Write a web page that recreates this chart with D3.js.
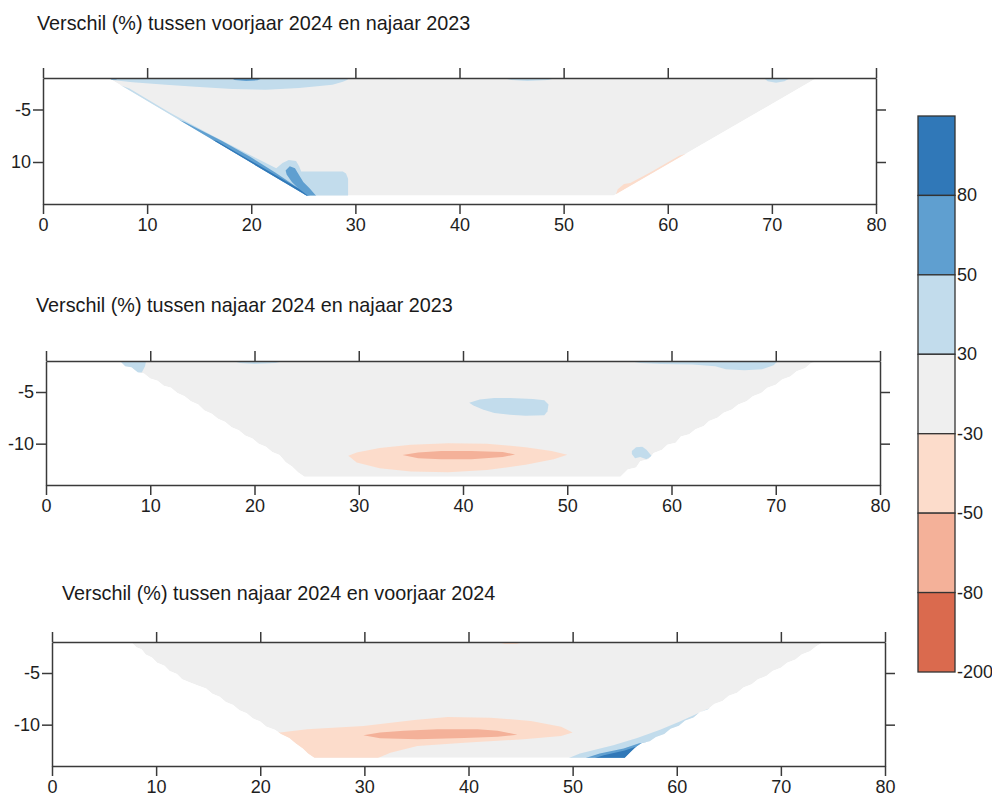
<!DOCTYPE html>
<html>
<head>
<meta charset="utf-8">
<script src="https://cdn.jsdelivr.net/npm/d3@7"></script>
<style>
  html, body { margin:0; padding:0; background:#fff; overflow:hidden; }
  svg { display:block; }
</style>
</head>
<body>
<div id="chart"></div>
<script>
// ---- data ---------------------------------------------------------
const xTicks = [0, 10, 20, 30, 40, 50, 60, 70, 80];
const yTicks = [-5, -10];
const depthDomain = [-2, -14];

const titles = [
  "Verschil (%) tussen voorjaar 2024 en najaar 2023",
  "Verschil (%) tussen najaar 2024 en najaar 2023",
  "Verschil (%) tussen najaar 2024 en voorjaar 2024"
];
const yTickLabels = [["-5", "10"], ["-5", "-10"], ["-5", "-10"]];

// class breaks (%) and colours
const breaks = [-80, -50, -30, 30, 50, 80];
const classColors = ["#da6a4e", "#f4b199", "#fcdccb", "#efefef", "#c2dcec", "#5f9fd0", "#3078b8"];
const legendValues = [90, 65, 40, 0, -40, -65, -100];           // one value per band, top → bottom
const legendLabels = ["80", "50", "30", "-30", "-50", "-80", "-200"];

// section outlines [distance, depth]
const section1 = [[6.3,-2],[74.3,-2],[54.8,-13.2],[25.3,-13.2]];
const section2 = [
  [7.1,-2],[7.6,-2.5],[8.2,-2.6],[8.8,-3.1],[9.4,-3.2],[10.0,-3.7],[10.7,-3.9],[11.3,-4.4],[12.0,-4.6],
  [12.6,-5.1],[13.3,-5.4],[13.9,-5.9],[14.6,-6.2],[15.2,-6.8],[15.9,-7.1],[16.5,-7.6],[17.2,-7.9],
  [17.8,-8.4],[18.5,-8.7],[19.1,-9.2],[19.8,-9.5],[20.4,-10.0],[21.1,-10.3],[21.7,-10.8],[22.4,-11.1],
  [23.0,-11.8],[23.6,-12.2],[24.2,-12.8],[24.8,-13.2],
  [55.1,-13.2],[55.8,-12.5],[56.6,-12.3],[57.0,-11.7],[57.8,-11.5],[58.3,-10.9],[59.1,-10.6],[59.6,-10.1],
  [60.4,-9.9],[60.9,-9.3],[61.7,-9.1],[62.3,-8.6],[63.1,-8.3],[63.6,-7.8],[64.4,-7.5],[65.0,-7.0],
  [65.8,-6.7],[66.4,-6.2],[67.2,-5.9],[67.8,-5.4],[68.6,-5.1],[69.2,-4.6],[70.0,-4.3],[70.6,-3.8],
  [71.4,-3.5],[72.0,-3.0],[72.8,-2.7],[73.4,-2.2],[74.2,-2]
];
const section3 = [
  [7.6,-2],[8.1,-2.5],[8.6,-2.7],[9.0,-3.2],[9.6,-3.5],[10.1,-4.0],[10.8,-4.3],[11.3,-4.8],[12.0,-5.1],
  [12.5,-5.6],[13.2,-5.9],[14.0,-6.2],[14.8,-6.5],[15.4,-7.0],[16.1,-7.3],[16.7,-7.8],[17.4,-8.1],
  [18.0,-8.6],[18.7,-8.9],[19.3,-9.4],[20.0,-9.7],[20.6,-10.2],[21.4,-10.5],[22.0,-10.9],[22.8,-11.3],
  [23.4,-11.8],[24.1,-12.3],[24.6,-12.8],[25.2,-13.2],
  [55.0,-13.2],[55.6,-12.6],[56.0,-12.2],[56.6,-11.8],[57.4,-11.6],[58.0,-11.2],[58.8,-10.9],[59.4,-10.4],
  [60.2,-10.1],[60.8,-9.6],[61.6,-9.3],[62.2,-8.8],[63.0,-8.5],[63.6,-8.0],[64.4,-7.7],[65.0,-7.2],
  [65.8,-6.9],[66.4,-6.4],[67.2,-6.1],[67.8,-5.6],[68.6,-5.3],[69.2,-4.8],[70.0,-4.5],[70.6,-4.0],
  [71.4,-3.7],[72.0,-3.2],[72.8,-2.9],[73.4,-2.4],[74.1,-2]
];

// difference patches: v = % change, pts = [distance, depth]
const patches1 = [
  { v: 40, pts: [[6.3,-2],[29.4,-2],[29.2,-2.2],[28.8,-2.35],[27.8,-2.64],[24.6,-2.96],[21.4,-3.11],[18.2,-3.05],[15.0,-2.86],[11.8,-2.64],[8.6,-2.41],[6.4,-2.16]] },
  { v: 65, pts: [[18.1,-2],[21.1,-2],[20.6,-2.22],[19.5,-2.28],[18.4,-2.2]] },
  { v: 65, pts: [[6.3,-2],[7.4,-2],[7.0,-2.15],[6.5,-2.15]] },
  { v: 40, pts: [[33.0,-2],[34.3,-2],[33.9,-2.12],[33.3,-2.12]] },
  { v: 40, pts: [[44.2,-2],[49.3,-2],[48.5,-2.2],[46.5,-2.28],[45.0,-2.2]] },
  { v: 40, pts: [[69.2,-2],[71.8,-2],[71.2,-2.3],[70.4,-2.45],[69.6,-2.3]] },
  { v: 40, pts: [[4,-1.5],[8.3,-3.0],[12.2,-5.3],[16.3,-7.5],[20.4,-9.6],[22.4,-10.6],[23.0,-10.1],[23.6,-9.8],[24.3,-9.9],[24.6,-10.4],[24.8,-10.9],[28.8,-10.9],[29.1,-11.1],[29.3,-11.6],[29.3,-13.4],[20,-14],[4,-14]] },
  { v: 65, pts: [[10,-5],[13.6,-6.2],[17.2,-8.0],[19.9,-9.5],[22.3,-11.0],[23.8,-12.0],[25.9,-13.4],[10,-14]] },
  { v: 65, pts: [[23.3,-10.8],[23.7,-10.4],[24.2,-10.6],[24.5,-11.1],[25.0,-11.9],[25.6,-12.5],[26.3,-13.3],[25.3,-13.3],[24.7,-12.7],[23.9,-11.9],[23.4,-11.2]] },
  { v: 90, pts: [[14,-7.3],[16.7,-8.0],[19.3,-9.5],[21.9,-11.0],[24.5,-12.5],[25.7,-13.4],[14,-14]] },
  { v: -40, pts: [[54.9,-13.4],[55.2,-12.6],[55.8,-12.1],[56.4,-12.0],[58.3,-11.0],[61.1,-9.4],[62.5,-9.0],[62.5,-13.4]] }
];
const patches2 = [
  { v: 40, pts: [[7.1,-2],[9.6,-2],[9.5,-2.5],[9.2,-3.1],[8.6,-3.2],[7.8,-2.8],[6,-2.5]] },
  { v: 40, pts: [[17.9,-2],[22.8,-2],[22.0,-2.2],[20.0,-2.28],[18.6,-2.2]] },
  { v: 40, pts: [[55.9,-2],[70.2,-2],[69.8,-2.4],[68.7,-2.8],[67.0,-2.9],[65.2,-2.8],[64.2,-2.5],[62.0,-2.35],[59.0,-2.3],[57.0,-2.2]] },
  { v: 40, pts: [[40.6,-6.05],[41.6,-5.73],[43.0,-5.57],[44.5,-5.57],[46.7,-5.67],[47.8,-5.8],[48.2,-6.2],[48.1,-6.87],[47.8,-7.25],[46.0,-7.3],[44.5,-7.2],[43.0,-7.03],[41.9,-6.7],[41.0,-6.3]] },
  { v: -40, pts: [[29.0,-11.18],[29.8,-10.86],[32.0,-10.43],[35.0,-10.1],[38.6,-9.95],[42.3,-10.0],[46.0,-10.34],[48.5,-10.7],[50.0,-11.08],[48.7,-11.5],[46.0,-12.05],[42.3,-12.54],[38.6,-12.77],[35.0,-12.7],[32.0,-12.38],[29.8,-11.83]] },
  { v: -65, pts: [[34.2,-11.1],[35.7,-10.86],[37.9,-10.7],[40.8,-10.7],[43.8,-10.8],[45.0,-11.05],[43.8,-11.3],[40.8,-11.5],[37.9,-11.5],[35.7,-11.4]] },
  { v: 40, pts: [[56.2,-10.7],[56.6,-10.35],[57.2,-10.3],[57.6,-10.6],[58.1,-11.2],[57.6,-11.5],[57.0,-11.3],[56.5,-11.4],[56.2,-11.0]] }
];
const patches3 = [
  { v: -40, pts: [[42.8,-2],[45.3,-2],[44.6,-2.2],[43.5,-2.2]] },
  { v: -40, pts: [[20,-10.6],[21.9,-10.77],[24.5,-10.45],[29.9,-10.13],[34.8,-9.55],[38.0,-9.26],[42.1,-9.32],[46.0,-9.65],[48.9,-10.19],[50.0,-10.77],[48.9,-11.1],[45.3,-11.42],[39.6,-11.74],[35.1,-12.06],[32.5,-12.71],[30.9,-13.4],[24.8,-13.4],[20,-13.4]] },
  { v: -65, pts: [[29.9,-11.03],[31.5,-10.77],[33.8,-10.6],[37.0,-10.45],[40.9,-10.45],[42.8,-10.6],[44.7,-10.97],[42.8,-11.16],[39.6,-11.29],[35.1,-11.42],[31.5,-11.32]] },
  { v: 40, pts: [[49.2,-13.4],[50.7,-12.8],[53.9,-12.0],[56.2,-11.3],[58.4,-10.5],[60.3,-9.7],[62.9,-8.5],[64.0,-8.1],[64.8,-8.3],[60,-11.5],[57,-13.4]] },
  { v: 65, pts: [[50.7,-13.4],[52.6,-12.8],[54.9,-12.3],[56.4,-11.8],[57.4,-11.7],[57.4,-13.4]] },
  { v: 90, pts: [[51.6,-13.4],[53.0,-12.95],[55.0,-12.5],[56.0,-12.15],[56.6,-12.1],[56.3,-13.4]] }
];

// ---- layout -------------------------------------------------------
const W = 992, H = 796;
const panels = [
  { title: titles[0], tx: 37, ty: 30,  x0: 43, x1: 876, top: 78,  bottom: 204, section: section1, patches: patches1, yLabels: yTickLabels[0] },
  { title: titles[1], tx: 36, ty: 312, x0: 46, x1: 880, top: 361, bottom: 485, section: section2, patches: patches2, yLabels: yTickLabels[1] },
  { title: titles[2], tx: 62, ty: 600, x0: 52, x1: 885, top: 642, bottom: 766, section: section3, patches: patches3, yLabels: yTickLabels[2] }
];

const color = d3.scaleThreshold().domain(breaks).range(classColors);
const FONT = "'Liberation Sans', Arial, sans-serif";
const INK = "#3a3a3a";

const svg = d3.select("#chart").append("svg")
  .attr("width", W).attr("height", H)
  .attr("font-family", FONT);

function axisStyling(g){
  g.selectAll("path,line").attr("stroke", INK).attr("stroke-width", 1.5);
  g.selectAll("text").attr("fill", "#1e1e1e").attr("font-size", 18).attr("font-family", FONT);
}

panels.forEach((p, i) => {
  const x = d3.scaleLinear([0, 80], [p.x0, p.x1]);
  const y = d3.scaleLinear(depthDomain, [p.top, p.bottom]);
  const line = d3.line().x(d => x(d[0])).y(d => y(d[1])).curve(d3.curveLinearClosed);

  svg.append("text")
    .attr("x", p.tx).attr("y", p.ty)
    .attr("font-size", 19.8).attr("fill", "#1a1a1a")
    .text(p.title);

  const clipId = `sect-${i}`;
  svg.append("defs").append("clipPath").attr("id", clipId)
    .append("path").attr("d", line(p.section));

  const g = svg.append("g").attr("clip-path", `url(#${clipId})`);
  g.append("path").attr("d", line(p.section)).attr("fill", color(0));
  g.selectAll("path.patch").data(p.patches).join("path")
    .attr("class", "patch")
    .attr("d", d => line(d.pts))
    .attr("fill", d => color(d.v));

  svg.append("g").attr("transform", `translate(0,${p.top})`)
    .call(d3.axisTop(x).tickValues(xTicks).tickSize(10).tickSizeOuter(0).tickFormat(""))
    .call(axisStyling);
  svg.append("g").attr("transform", `translate(0,${p.bottom})`)
    .call(d3.axisBottom(x).tickValues(xTicks).tickSize(10).tickSizeOuter(0).tickPadding(4).tickFormat(d3.format("d")))
    .call(axisStyling);
  svg.append("g").attr("transform", `translate(${p.x0},0)`)
    .call(d3.axisLeft(y).tickValues(yTicks).tickSize(10).tickSizeOuter(0).tickPadding(2)
      .tickFormat((d, k) => p.yLabels[k]))
    .call(axisStyling);
  svg.append("g").attr("transform", `translate(${p.x1},0)`)
    .call(d3.axisRight(y).tickValues(yTicks).tickSize(10).tickSizeOuter(0).tickFormat(""))
    .call(axisStyling);
});

// ---- legend -------------------------------------------------------
const ly = d3.scaleLinear([0, legendValues.length], [116, 672]);
const lx0 = 918, lx1 = 955;
const leg = svg.append("g");
leg.selectAll("rect").data(legendValues).join("rect")
  .attr("x", lx0).attr("width", lx1 - lx0)
  .attr("y", (d, k) => ly(k)).attr("height", (d, k) => ly(k + 1) - ly(k))
  .attr("fill", d => color(d))
  .attr("stroke", "#333").attr("stroke-width", 1.3);
leg.selectAll("text").data(legendLabels).join("text")
  .attr("x", lx1 + 2).attr("y", (d, k) => ly(k + 1) + 6)
  .attr("font-size", 18).attr("fill", "#1e1e1e")
  .text(d => d);
</script>
</body>
</html>
